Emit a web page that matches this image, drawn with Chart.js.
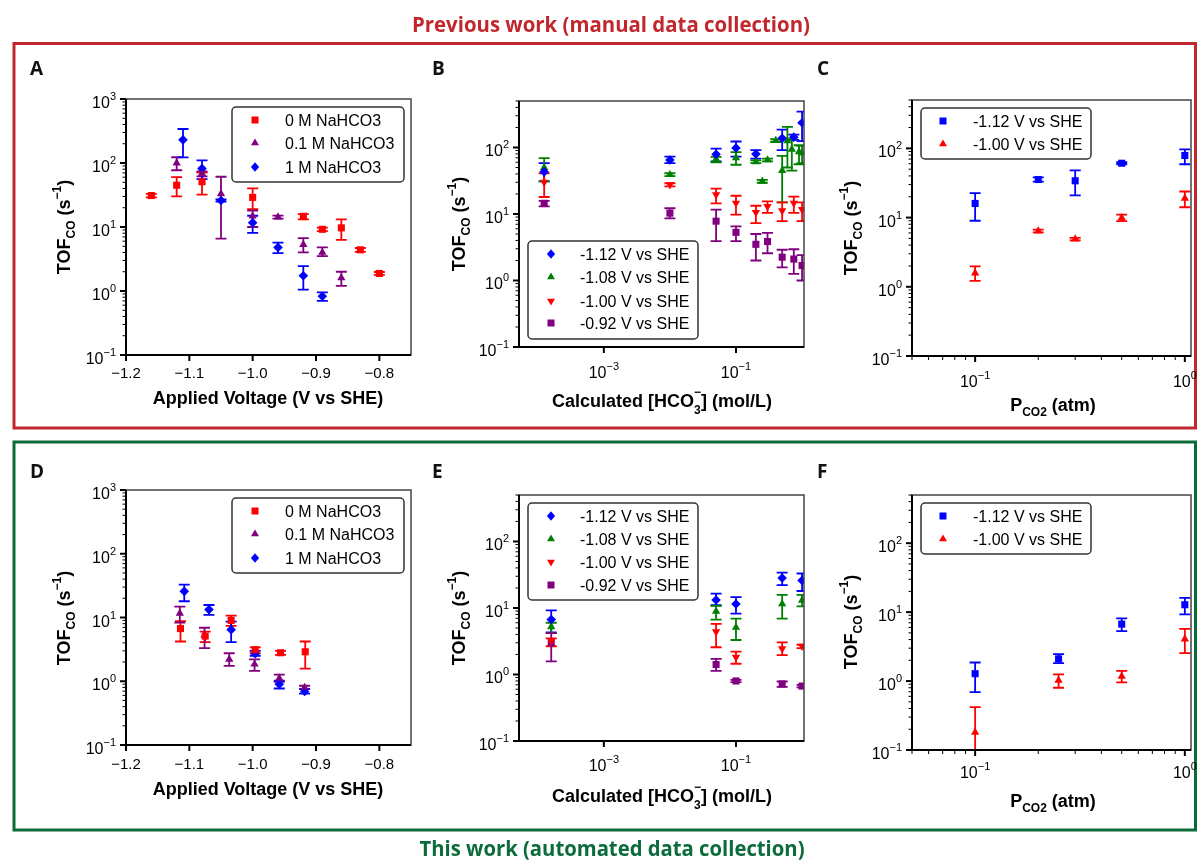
<!DOCTYPE html>
<html lang="en">
<head>
<meta charset="UTF-8">
<title>TOF CO comparison</title>
<script src="https://cdn.jsdelivr.net/npm/chart.js"></script>
<style>
  body { margin: 0; background: #fff; }
  #wrap { position: relative; width: 1198px; height: 860px; }
  canvas { position: absolute; left: 0; top: 0; }
</style>
</head>
<body>
<div id="wrap">
  <canvas id="bg" width="1198" height="860"></canvas>
  <canvas id="cA" width="1198" height="860"></canvas>
  <canvas id="cB" width="1198" height="860"></canvas>
  <canvas id="cC" width="1198" height="860"></canvas>
  <canvas id="cD" width="1198" height="860"></canvas>
  <canvas id="cE" width="1198" height="860"></canvas>
  <canvas id="cF" width="1198" height="860"></canvas>
</div>
<script>
// ---- data: panel A (previous work, TOF vs applied voltage) ----
const voltA0 = [-1.16, -1.12, -1.08, -1.00, -0.92, -0.89, -0.86, -0.83, -0.80];
const tofA0  = [31, 45, 51, 29, 14.7, 9.2, 9.7, 4.4, 1.88];
const loA0   = [29, 30, 32, 19, 13.2, 8.6, 6.3, 4.1, 1.78];
const hiA0   = [33, 60, 71, 40, 15.9, 9.8, 13.2, 4.7, 1.98];
const voltA01 = [-1.12, -1.08, -1.05, -1.00, -0.96, -0.92, -0.89, -0.86];
const tofA01  = [100, 68, 33, 14.8, 14.3, 5.3, 4.0, 1.6];
const loA01   = [77, 62, 6.6, 10, 13.5, 4.0, 3.5, 1.2];
const hiA01   = [123, 74, 61, 18, 15.1, 6.7, 4.8, 2.0];
const voltA1 = [-1.11, -1.08, -1.05, -1.00, -0.96, -0.92, -0.89];
const tofA1  = [230, 82, 26, 11.7, 4.8, 1.73, 0.83];
const loA1   = [122, 56, 25, 8.1, 3.9, 1.05, 0.7];
const hiA1   = [340, 110, 27, 15, 5.7, 2.45, 0.95];

// ---- panel B (previous work, TOF vs calculated bicarbonate) ----
const hco3B112 = [1.25e-4, 0.01, 0.05, 0.1, 0.2, 0.5, 0.75, 1.0];
const tofB112  = [43, 65, 79, 98, 80, 138, 143, 235];
const loB112   = [31, 58, 62, 73, 68, 91, 130, 125];
const hiB112   = [58, 73, 96, 123, 91, 186, 156, 345];
const hco3B108 = [1.25e-4, 0.01, 0.05, 0.1, 0.2, 0.25, 0.3, 0.4, 0.5, 0.6, 0.7, 0.9, 1.0];
const tofB108  = [50, 39, 67, 70, 61, 31, 65, 127, 45, 126, 94, 86, 82];
const loB108   = [31, 37, 60, 55, 58, 29.5, 62, 121, 15, 50, 45, 56, 58];
const hiB108   = [69, 41, 72, 85, 64, 32.5, 68, 133, 75, 204, 133, 108, 106];
const hco3B100 = [1.25e-4, 0.01, 0.05, 0.1, 0.2, 0.3, 0.5, 0.75, 1.0];
const tofB100  = [30, 27.5, 19.5, 14.6, 10.6, 13.0, 11.2, 14.6, 11.7];
const loB100   = [18, 26, 14.4, 9.8, 7.3, 10.4, 7.8, 10.4, 7.8];
const hiB100   = [41, 29, 24, 18.8, 13.3, 15.5, 14.9, 18.2, 14.9];
const hco3B092 = [1.25e-4, 0.01, 0.05, 0.1, 0.2, 0.3, 0.5, 0.75, 1.0];
const tofB092  = [14.5, 10.3, 7.8, 5.3, 3.5, 3.85, 2.24, 2.1, 1.68];
const loB092   = [13, 8.6, 3.9, 3.9, 2.0, 2.57, 1.58, 1.26, 1.0];
const hiB092   = [15.8, 12.2, 11.6, 6.5, 5.0, 5.2, 2.9, 2.95, 2.4];

// ---- panel C (previous work, TOF vs CO2 pressure) ----
const pco2C   = [0.1, 0.2, 0.3, 0.5, 1.0];
const tofC112 = [16, 35.5, 34, 61, 79];
const loC112  = [9, 33, 21, 59, 59];
const hiC112  = [22.5, 38, 48, 63, 97];
const tofC100 = [1.58, 6.4, 4.9, 9.9, 19];
const loC100  = [1.22, 6.1, 4.7, 8.9, 14.1];
const hiC100  = [1.97, 6.7, 5.1, 11, 23.8];

// ---- panel D (this work, TOF vs applied voltage) ----
const voltD0 = [-1.114, -1.075, -1.034, -0.996, -0.956, -0.917];
const tofD0  = [6.7, 5.1, 9.0, 3.13, 2.8, 2.9];
const loD0   = [4.2, 4.1, 7.4, 2.75, 2.6, 1.58];
const hiD0   = [8.8, 6.0, 10.7, 3.4, 3.0, 4.2];
const voltD01 = [-1.115, -1.076, -1.037, -0.997, -0.958, -0.918];
const tofD01  = [11.6, 5.3, 2.2, 1.85, 1.11, 0.8];
const loD01   = [8.3, 3.3, 1.74, 1.45, 0.98, 0.75];
const hiD01   = [14.8, 6.9, 2.75, 2.2, 1.27, 0.85];
const voltD1 = [-1.108, -1.069, -1.034, -0.996, -0.958, -0.918];
const tofD1  = [25.7, 13.3, 6.45, 2.7, 0.9, 0.69];
const loD1   = [18, 11, 4.1, 2.5, 0.77, 0.64];
const hiD1   = [32.7, 15.7, 8.6, 3.0, 1.02, 0.75];

// ---- panel E (this work, TOF vs calculated bicarbonate) ----
const hco3E   = [1.6e-4, 0.05, 0.1, 0.5, 1.0];
const tofE112 = [6.7, 13.2, 11.5, 28.2, 26];
const loE112  = [4.3, 11, 8.2, 22, 18];
const hiE112  = [9.2, 16.4, 14.6, 34, 33];
const tofE108 = [5.2, 8.9, 5.1, 11.5, 13];
const loE108  = [4.2, 6.7, 3.3, 6.9, 10.6];
const hiE108  = [6.0, 10.8, 6.9, 15.7, 15.7];
const tofE100 = [3.2, 4.4, 1.82, 2.45, 2.66];
const loE100  = [2.66, 2.57, 1.45, 1.95, 2.5];
const hiE100  = [3.5, 5.75, 2.2, 3.05, 2.8];
const tofE092 = [3.0, 1.41, 0.8, 0.72, 0.67];
const loE092  = [1.58, 1.13, 0.77, 0.65, 0.64];
const hiE092  = [4.2, 1.72, 0.83, 0.785, 0.7];

// ---- panel F (this work, TOF vs CO2 pressure) ----
const pco2F   = [0.1, 0.25, 0.5, 1.0];
const tofF112 = [1.28, 2.1, 6.7, 12.8];
const loF112  = [0.69, 1.82, 5.3, 9.3];
const hiF112  = [1.86, 2.46, 8.1, 16.1];
const tofF100 = [0.18, 1.02, 1.17, 4.06];
const loF100  = [0.05, 0.8, 0.96, 2.55];
const hiF100  = [0.42, 1.25, 1.41, 5.7];

// ---- tick labels ----
const voltTicks = [-1.2, -1.1, -1.0, -0.9, -0.8];
const voltTickLabels = ['\u22121.2', '\u22121.1', '\u22121.0', '\u22120.9', '\u22120.8'];
const tofDecadesVolt = [-1, 0, 1, 2, 3];
const tofDecades = [-1, 0, 1, 2];
const hco3Decades = [-3, -1];
const pco2Decades = [-1, 0];
const naLabels = ['0 M NaHCO3', '0.1 M NaHCO3', '1 M NaHCO3'];
const vLabels4 = ['-1.12 V vs SHE', '-1.08 V vs SHE', '-1.00 V vs SHE', '-0.92 V vs SHE'];
const vLabels2 = ['-1.12 V vs SHE', '-1.00 V vs SHE'];

const W = 1198, H = 860;
const FONT = '"Liberation Sans", Arial, Helvetica, sans-serif';
const HEAD = '"Open Sans", "Noto Sans", sans-serif';
const RED = '#ff0000', PURPLE = '#800080', BLUE = '#0000ff', GREEN = '#008000';
const CAP = 5.5;

function ser(label, xs, ys, lo, hi, color, marker) {
  return { label, xs, ys, lo, hi, color, marker };
}

function drawMarker(ctx, marker, x, y, color) {
  ctx.fillStyle = color;
  ctx.beginPath();
  if (marker === 'square') {
    const s = 3.5;
    ctx.rect(x - s, y - s, 2 * s, 2 * s);
  } else if (marker === 'diamond') {
    const r = 4.8;
    ctx.moveTo(x, y - r); ctx.lineTo(x + r * 0.85, y); ctx.lineTo(x, y + r); ctx.lineTo(x - r * 0.85, y);
  } else {
    const r = 4.6, d = marker === 'tri' ? 1 : -1;
    ctx.moveTo(x, y - d * r);
    ctx.lineTo(x + r * 0.866, y + d * r * 0.5);
    ctx.lineTo(x - r * 0.866, y + d * r * 0.5);
  }
  ctx.closePath();
  ctx.fill();
}

// draws a run of text pieces (with sub/superscripts) starting at x
function drawRich(ctx, parts, x, y, align) {
  let w = 0;
  parts.forEach(p => {
    ctx.font = (p.bold ? 'bold ' : '') + p.size + 'px ' + FONT;
    p.w = ctx.measureText(p.t).width;
    if (p.over) p.w = Math.max(p.w, ctx.measureText(p.over).width);
    w += p.w;
  });
  let cx = align === 'center' ? x - w / 2 : (align === 'right' ? x - w : x);
  ctx.textAlign = 'left';
  ctx.textBaseline = 'alphabetic';
  parts.forEach(p => {
    ctx.font = (p.bold ? 'bold ' : '') + p.size + 'px ' + FONT;
    ctx.fillText(p.t, cx, y + (p.dy || 0));
    if (p.over) ctx.fillText(p.over, cx, y + p.overDy);
    cx += p.w;
  });
}

function powParts(exp) {
  const sup = exp < 0 ? '\u2212' + (-exp) : String(exp);
  return [{ t: '10', size: 16 }, { t: sup, size: 11, dy: -8 }];
}

const tofTitle = () => [
  { t: 'TOF', size: 18, bold: true },
  { t: 'CO', size: 12, bold: true, dy: 5 },
  { t: ' (s', size: 18, bold: true },
  { t: '\u22121', size: 12, bold: true, dy: -9 },
  { t: ')', size: 18, bold: true }
];
const voltTitle = () => [{ t: 'Applied Voltage (V vs SHE)', size: 18, bold: true }];
const hco3Title = () => [
  { t: 'Calculated [HCO', size: 18, bold: true },
  { t: '3', size: 12, bold: true, dy: 7, over: '\u2212', overDy: -11 },
  { t: '] (mol/L)', size: 18, bold: true }
];
const pco2Title = () => [
  { t: 'P', size: 18, bold: true },
  { t: 'CO2', size: 12, bold: true, dy: 5 },
  { t: ' (atm)', size: 18, bold: true }
];

function panelPlugin(p) {
  return {
    id: 'panel' + p.letter,
    beforeDatasetsDraw(chart) {
      const ctx = chart.ctx, a = chart.chartArea, ys = chart.scales.y;
      ctx.save();
      ctx.beginPath();
      ctx.rect(a.left, a.top, a.right - a.left, a.bottom - a.top);
      ctx.clip();
      chart.data.datasets.forEach((ds, i) => {
        const meta = chart.getDatasetMeta(i);
        ctx.strokeStyle = ds.pointBackgroundColor;
        ctx.lineWidth = 1.8;
        ds.data.forEach((d, j) => {
          const px = meta.data[j].x;
          const y1 = ys.getPixelForValue(d.lo), y2 = ys.getPixelForValue(d.hi);
          ctx.beginPath();
          ctx.moveTo(px, y1); ctx.lineTo(px, y2);
          ctx.moveTo(px - CAP, y1); ctx.lineTo(px + CAP, y1);
          ctx.moveTo(px - CAP, y2); ctx.lineTo(px + CAP, y2);
          ctx.stroke();
        });
      });
      ctx.restore();
    },
    afterDatasetsDraw(chart) {
      const ctx = chart.ctx, a = chart.chartArea, xs = chart.scales.x, ys = chart.scales.y;
      ctx.save();
      // frame
      ctx.strokeStyle = '#444';
      ctx.lineWidth = 1.5;
      ctx.strokeRect(a.left, a.top, a.right - a.left, a.bottom - a.top);
      ctx.strokeStyle = '#000';
      ctx.lineWidth = 2;
      ctx.beginPath();
      ctx.moveTo(a.left, a.top); ctx.lineTo(a.left, a.bottom); ctx.lineTo(a.right, a.bottom);
      ctx.stroke();

      // y ticks (log): minor at 2..9, major at decades
      const e0 = Math.floor(Math.log10(p.yMin)), e1 = Math.ceil(Math.log10(p.yMax));
      for (let e = e0; e <= e1; e++) {
        for (let m = 1; m <= 9; m++) {
          const v = m * Math.pow(10, e);
          if (v < p.yMin * 0.999 || v > p.yMax * 1.001) continue;
          const y = ys.getPixelForValue(v);
          ctx.beginPath();
          ctx.lineWidth = m === 1 ? 2 : 1;
          ctx.moveTo(a.left, y); ctx.lineTo(a.left - (m === 1 ? 6 : 3.5), y);
          ctx.stroke();
        }
      }
      ctx.fillStyle = '#000';
      p.yDecades.forEach(e => {
        const y = ys.getPixelForValue(Math.pow(10, e));
        drawRich(ctx, powParts(e), a.left - 10, y + 9, 'right');
      });

      // x ticks
      ctx.lineWidth = 2;
      if (p.xType === 'linear') {
        p.xTicks.forEach((v, i) => {
          const x = xs.getPixelForValue(v);
          ctx.beginPath(); ctx.moveTo(x, a.bottom); ctx.lineTo(x, a.bottom + 6); ctx.stroke();
          drawRich(ctx, [{ t: p.xTickLabels[i], size: 15 }], x, p.xTickY, 'center');
        });
      } else {
        if (p.xMinor) {
          const f0 = Math.floor(Math.log10(p.xMin)), f1 = Math.ceil(Math.log10(p.xMax));
          for (let e = f0; e <= f1; e++) {
            for (let m = 2; m <= 9; m++) {
              const v = m * Math.pow(10, e);
              if (v < p.xMin * 0.999 || v > p.xMax) continue;
              const x = xs.getPixelForValue(v);
              ctx.beginPath(); ctx.lineWidth = 1;
              ctx.moveTo(x, a.bottom); ctx.lineTo(x, a.bottom + 4); ctx.stroke();
            }
          }
        }
        p.xDecades.forEach(e => {
          const x = xs.getPixelForValue(Math.pow(10, e));
          ctx.beginPath(); ctx.lineWidth = 2;
          ctx.moveTo(x, a.bottom); ctx.lineTo(x, a.bottom + 6); ctx.stroke();
          drawRich(ctx, powParts(e), x, p.xTickY, 'center');
        });
      }

      // axis titles
      drawRich(ctx, p.xTitle(), p.xTitlePos[0], p.xTitlePos[1], 'center');
      ctx.translate(p.yTitlePos[0], p.yTitlePos[1]);
      ctx.rotate(-Math.PI / 2);
      drawRich(ctx, tofTitle(), 0, 0, 'center');
      ctx.setTransform(1, 0, 0, 1, 0, 0);

      // legend
      const L = p.legend;
      ctx.beginPath();
      ctx.roundRect(L.box[0], L.box[1], L.box[2] - L.box[0], L.box[3] - L.box[1], 4);
      ctx.fillStyle = 'rgba(255,255,255,0.9)';
      ctx.fill();
      ctx.strokeStyle = '#333';
      ctx.lineWidth = 1.5;
      ctx.stroke();
      p.series.forEach((s, i) => {
        drawMarker(ctx, s.marker, L.mx, L.rows[i], s.color);
        ctx.fillStyle = '#000';
        drawRich(ctx, [{ t: s.label, size: 16 }], L.tx, L.rows[i] + 6, 'left');
      });
      ctx.restore();
    }
  };
}

const styleMap = {
  square: { pointStyle: 'rect', rot: 0, r: 5 },
  diamond: { pointStyle: 'rectRot', rot: 0, r: 4.8 },
  tri: { pointStyle: 'triangle', rot: 0, r: 4.8 },
  triDown: { pointStyle: 'triangle', rot: 180, r: 4.8 }
};

function makeChart(id, p) {
  const ctx = document.getElementById(id).getContext('2d');
  return new Chart(ctx, {
    type: 'scatter',
    data: {
      datasets: p.series.map(s => ({
        label: s.label,
        data: s.xs.map((x, i) => ({ x: x, y: s.ys[i], lo: s.lo[i], hi: s.hi[i] })),
        pointStyle: styleMap[s.marker].pointStyle,
        pointRotation: styleMap[s.marker].rot,
        pointRadius: styleMap[s.marker].r,
        pointHoverRadius: styleMap[s.marker].r,
        pointBackgroundColor: s.color,
        pointBorderColor: s.color,
        pointBorderWidth: 0,
        showLine: false
      }))
    },
    options: {
      responsive: false,
      animation: false,
      events: [],
      layout: {
        autoPadding: false,
        padding: { left: p.area[0], top: p.area[1], right: W - p.area[2], bottom: H - p.area[3] }
      },
      scales: {
        x: { type: p.xType, min: p.xMin, max: p.xMax, display: false },
        y: { type: 'logarithmic', min: p.yMin, max: p.yMax, display: false }
      },
      plugins: { legend: { display: false }, tooltip: { enabled: false } }
    },
    plugins: [panelPlugin(p)]
  });
}

const legendAD = top => ({ box: [232, top, 404, top + 75], mx: 255, tx: 285, rows: [top + 13, top + 36, top + 60] });

makeChart('cA', {
  letter: 'A', area: [126, 99, 411, 355], xType: 'linear', xMin: -1.2, xMax: -0.75, yMin: 0.1, yMax: 1000,
  yDecades: tofDecadesVolt, xTicks: voltTicks, xTickLabels: voltTickLabels, xTickY: 378,
  xTitle: voltTitle, xTitlePos: [268, 404], yTitlePos: [70, 227],
  legend: legendAD(107),
  series: [
    ser(naLabels[0], voltA0, tofA0, loA0, hiA0, RED, 'square'),
    ser(naLabels[1], voltA01, tofA01, loA01, hiA01, PURPLE, 'tri'),
    ser(naLabels[2], voltA1, tofA1, loA1, hiA1, BLUE, 'diamond')
  ]
});

makeChart('cB', {
  letter: 'B', area: [519, 101, 804, 347], xType: 'logarithmic', xMin: 5.2e-5, xMax: 1.07, yMin: 0.1, yMax: 500,
  yDecades: tofDecades, xDecades: hco3Decades, xMinor: false, xTickY: 378,
  xTitle: hco3Title, xTitlePos: [662, 407], yTitlePos: [465, 224],
  legend: { box: [528, 241, 698, 339], mx: 551, tx: 580, rows: [254, 277, 301, 323] },
  series: [
    ser(vLabels4[0], hco3B112, tofB112, loB112, hiB112, BLUE, 'diamond'),
    ser(vLabels4[1], hco3B108, tofB108, loB108, hiB108, GREEN, 'tri'),
    ser(vLabels4[2], hco3B100, tofB100, loB100, hiB100, RED, 'triDown'),
    ser(vLabels4[3], hco3B092, tofB092, loB092, hiB092, PURPLE, 'square')
  ]
});

makeChart('cC', {
  letter: 'C', area: [912, 100, 1191, 356], xType: 'logarithmic', xMin: 0.05, xMax: 1.07, yMin: 0.1, yMax: 500,
  yDecades: tofDecades, xDecades: pco2Decades, xMinor: true, xTickY: 387,
  xTitle: pco2Title, xTitlePos: [1053, 411], yTitlePos: [857, 228],
  legend: { box: [921, 108, 1091, 159], mx: 943, tx: 973, rows: [121, 144] },
  series: [
    ser(vLabels2[0], pco2C, tofC112, loC112, hiC112, BLUE, 'square'),
    ser(vLabels2[1], pco2C, tofC100, loC100, hiC100, RED, 'tri')
  ]
});

makeChart('cD', {
  letter: 'D', area: [126, 490, 411, 745], xType: 'linear', xMin: -1.2, xMax: -0.75, yMin: 0.1, yMax: 1000,
  yDecades: tofDecadesVolt, xTicks: voltTicks, xTickLabels: voltTickLabels, xTickY: 769,
  xTitle: voltTitle, xTitlePos: [268, 795], yTitlePos: [70, 618],
  legend: legendAD(498),
  series: [
    ser(naLabels[0], voltD0, tofD0, loD0, hiD0, RED, 'square'),
    ser(naLabels[1], voltD01, tofD01, loD01, hiD01, PURPLE, 'tri'),
    ser(naLabels[2], voltD1, tofD1, loD1, hiD1, BLUE, 'diamond')
  ]
});

makeChart('cE', {
  letter: 'E', area: [519, 495, 804, 741], xType: 'logarithmic', xMin: 5.2e-5, xMax: 1.07, yMin: 0.1, yMax: 500,
  yDecades: tofDecades, xDecades: hco3Decades, xMinor: false, xTickY: 771,
  xTitle: hco3Title, xTitlePos: [662, 802], yTitlePos: [465, 618],
  legend: { box: [528, 503, 698, 600], mx: 551, tx: 580, rows: [516, 539, 562, 585] },
  series: [
    ser(vLabels4[0], hco3E, tofE112, loE112, hiE112, BLUE, 'diamond'),
    ser(vLabels4[1], hco3E, tofE108, loE108, hiE108, GREEN, 'tri'),
    ser(vLabels4[2], hco3E, tofE100, loE100, hiE100, RED, 'triDown'),
    ser(vLabels4[3], hco3E, tofE092, loE092, hiE092, PURPLE, 'square')
  ]
});

makeChart('cF', {
  letter: 'F', area: [912, 495, 1191, 750], xType: 'logarithmic', xMin: 0.05, xMax: 1.07, yMin: 0.1, yMax: 500,
  yDecades: tofDecades, xDecades: pco2Decades, xMinor: true, xTickY: 778,
  xTitle: pco2Title, xTitlePos: [1053, 807], yTitlePos: [857, 622],
  legend: { box: [921, 503, 1091, 554], mx: 943, tx: 973, rows: [516, 539] },
  series: [
    ser(vLabels2[0], pco2F, tofF112, loF112, hiF112, BLUE, 'square'),
    ser(vLabels2[1], pco2F, tofF100, loF100, hiF100, RED, 'tri')
  ]
});

// ---- static frame: section boxes, headings, panel letters ----
(function drawBackground() {
  const ctx = document.getElementById('bg').getContext('2d');
  ctx.fillStyle = '#fff';
  ctx.fillRect(0, 0, W, H);
  ctx.lineWidth = 3;
  ctx.strokeStyle = '#c1272d';
  ctx.strokeRect(14, 43.5, 1181.5, 384.5);
  ctx.strokeStyle = '#0a6b3b';
  ctx.strokeRect(14, 442, 1181.5, 388);

  function heading(text, color, cx, base, width) {
    ctx.save();
    ctx.font = 'bold 21px ' + HEAD;
    const w = ctx.measureText(text).width;
    ctx.translate(cx, base);
    ctx.scale(width / w, 1);
    ctx.fillStyle = color;
    ctx.textAlign = 'center';
    ctx.fillText(text, 0, 0);
    ctx.restore();
  }
  heading('Previous work (manual data collection)', '#c1272d', 611, 32, 398);
  heading('This work (automated data collection)', '#0a6b3b', 612, 856, 385);

  ctx.fillStyle = '#111';
  ctx.font = 'bold 19px ' + HEAD;
  ctx.textAlign = 'left';
  [['A', 30, 75], ['B', 432, 75], ['C', 817, 75], ['D', 30, 478], ['E', 432, 478], ['F', 817, 478]]
    .forEach(l => ctx.fillText(l[0], l[1], l[2]));
})();
</script>
</body>
</html>
